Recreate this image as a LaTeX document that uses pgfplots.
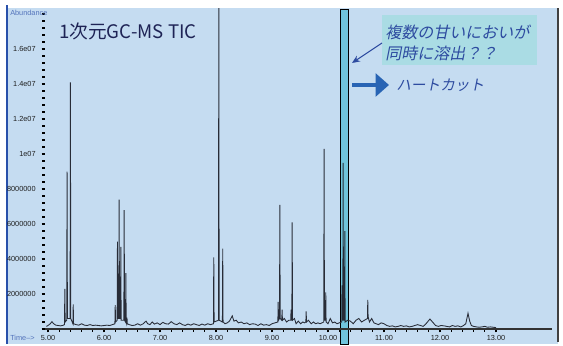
\documentclass[border=0pt]{standalone}
\usepackage{pgfplots}
\pgfplotsset{compat=1.18}
\usepackage{fontspec}
\setmainfont{Liberation Sans}
\newfontfamily\jp{Noto Sans CJK JP}
\newfontfamily\jpit{Noto Sans CJK JP}[FakeSlant=0.2]
\usetikzlibrary{arrows.meta}
\definecolor{bgblue}{RGB}{197,220,241}
\definecolor{leftblue}{RGB}{40,80,170}
\definecolor{cutcol}{RGB}{112,196,220}
\definecolor{boxcol}{RGB}{170,220,228}
\definecolor{txtblue}{RGB}{45,75,160}
\definecolor{arrowblue}{RGB}{40,100,180}
\definecolor{titlecol}{RGB}{30,35,85}
\definecolor{tracecol}{RGB}{40,44,55}
\definecolor{labcol}{RGB}{30,30,30}
\begin{document}
\begin{tikzpicture}
\begin{scope}[x=0.75pt,y=0.75pt]
  \useasboundingbox (0,0) rectangle (563,344);
  \fill[white] (0,0) rectangle (563,344);
  \fill[bgblue] (8,0) rectangle (558,336);
  \draw[line width=1.5pt, leftblue] (7,0) -- (7,339);
  \draw[line width=0.8pt, black!75] (558,2) -- (558,336);
  \filldraw[fill=cutcol, draw=black, line width=0.6pt] (340,0) rectangle (348,335);
\end{scope}
\begin{axis}[
  at={(33.75pt,11.25pt)}, anchor=south west,
  scale only axis, width=380.25pt, height=240pt,
  xmin=4.946, xmax=14.0, ymin=0, ymax=18.29,
  axis x line*=bottom, axis y line*=left,
  y axis line style={draw=none},
  x axis line style={draw=black!80, line width=0.8pt, -},
  tick align=outside,
  major tick length=2.5pt, minor tick length=2pt,
  tick style={black, line width=0.9pt},
  xtick={5,6,7,8,9,10,11,12,13},
  xticklabels={5.00,6.00,7.00,8.00,9.00,10.00,11.00,12.00,13.00},
  minor x tick num=4,
  ytick={0,2,4,6,8,10,12,14,16,18},
  yticklabels={,2000000,4000000,6000000,8000000,1e07,1.2e07,1.4e07,1.6e07,},
  minor y tick num=4,
  tick label style={font=\fontsize{5.5}{6}\selectfont, text=labcol},
  xticklabel style={yshift=1pt},
  yticklabel style={xshift=-1pt},
  /pgf/number format/assume math mode=true,
]
\addplot[color=tracecol, line width=0.65pt, mark=none] table {
4.97 0.15
5.00 0.20
5.04 0.30
5.07 0.42
5.10 0.30
5.14 0.22
5.18 0.20
5.22 0.18
5.26 0.20
5.294 0.25
5.30 2.3
5.306 0.4
5.334 0.5
5.34 9.0
5.346 0.6
5.394 0.6
5.40 14.1
5.406 0.6
5.444 0.3
5.45 1.4
5.456 0.3
5.50 0.25
5.55 0.22
5.60 0.3
5.65 0.22
5.70 0.2
5.75 0.25
5.80 0.2
5.85 0.22
5.90 0.2
5.95 0.18
6.00 0.2
6.05 0.22
6.10 0.2
6.15 0.25
6.194 0.3
6.20 1.37
6.206 0.4
6.234 0.5
6.24 5.0
6.246 0.6
6.264 0.6
6.27 7.4
6.276 0.6
6.294 0.6
6.30 4.7
6.306 0.5
6.354 0.5
6.36 6.8
6.366 0.5
6.384 0.4
6.39 3.2
6.396 0.4
6.404 0.3
6.41 0.65
6.416 0.3
6.45 0.25
6.50 0.2
6.55 0.22
6.60 0.3
6.65 0.22
6.70 0.3
6.75 0.45
6.78 0.3
6.82 0.25
6.86 0.4
6.90 0.28
6.95 0.35
7.00 0.25
7.05 0.38
7.10 0.3
7.15 0.28
7.20 0.42
7.25 0.3
7.30 0.25
7.35 0.35
7.40 0.25
7.45 0.2
7.50 0.28
7.55 0.22
7.60 0.3
7.65 0.25
7.70 0.2
7.75 0.28
7.80 0.22
7.85 0.3
7.90 0.25
7.954 0.3
7.96 4.1
7.966 0.4
8.044 0.5
8.05 20
8.056 0.5
8.114 0.4
8.12 4.6
8.126 0.4
8.16 0.3
8.20 0.35
8.24 0.45
8.29 0.75
8.32 0.45
8.36 0.5
8.40 0.35
8.45 0.4
8.50 0.3
8.55 0.35
8.60 0.25
8.65 0.3
8.70 0.28
8.75 0.2
8.80 0.3
8.85 0.22
8.90 0.25
8.95 0.2
9.00 0.3
9.05 0.35
9.104 0.4
9.11 1.55
9.116 0.5
9.134 0.6
9.14 7.1
9.146 0.6
9.174 0.5
9.18 1.1
9.186 0.5
9.22 0.6
9.26 0.4
9.30 0.5
9.334 0.5
9.34 1.1
9.346 0.5
9.354 0.5
9.36 6.1
9.366 0.5
9.40 0.6
9.43 0.3
9.47 0.45
9.51 0.3
9.55 0.4
9.58 0.35
9.604 0.4
9.61 1.0
9.616 0.4
9.65 0.5
9.70 0.3
9.74 0.4
9.78 0.3
9.82 0.35
9.86 0.3
9.924 0.4
9.93 10.3
9.936 0.5
9.954 0.5
9.96 2.1
9.966 0.4
10.00 0.3
10.04 0.6
10.08 0.35
10.12 0.4
10.16 0.3
10.20 0.35
10.244 0.4
10.25 2.5
10.256 0.5
10.264 0.5
10.27 9.5
10.276 0.5
10.294 0.5
10.30 5.6
10.306 0.4
10.35 0.5
10.40 0.45
10.45 0.3
10.50 0.5
10.55 0.6
10.60 0.4
10.65 0.5
10.704 0.6
10.71 1.66
10.716 0.7
10.74 0.4
10.78 0.6
10.82 0.35
10.86 0.3
10.90 0.25
10.95 0.35
11.00 0.3
11.05 0.2
11.10 0.15
11.15 0.18
11.20 0.12
11.25 0.15
11.30 0.2
11.35 0.15
11.40 0.18
11.45 0.12
11.50 0.15
11.55 0.2
11.60 0.25
11.65 0.2
11.70 0.15
11.75 0.3
11.82 0.57
11.88 0.35
11.92 0.2
11.97 0.15
12.02 0.2
12.07 0.18
12.12 0.15
12.17 0.12
12.22 0.2
12.27 0.15
12.32 0.18
12.37 0.12
12.42 0.2
12.46 0.3
12.50 0.9
12.53 0.45
12.56 0.2
12.60 0.15
12.65 0.12
12.70 0.1
12.75 0.12
12.80 0.15
12.85 0.1
12.90 0.12
12.95 0.1
13.00 0.08
};
\end{axis}
\begin{scope}[x=0.75pt,y=0.75pt]
  \node[anchor=west, inner sep=0pt, text=leftblue!80, font=\fontsize{5.5}{6}\selectfont] at (10,331) {Abundance};
  \node[anchor=west, inner sep=0pt, text=leftblue!80, font=\fontsize{5.5}{6}\selectfont] at (10,6) {Time-->};
  \node[anchor=west, inner sep=0pt, text=titlecol, font=\jp\fontsize{14}{14}\selectfont] at (59,313) {1次元GC-MS TIC};
  \fill[boxcol] (382,329) rectangle (537,279);
  \node[anchor=west, inner sep=0pt, text=txtblue, font=\jpit\fontsize{12}{12}\selectfont] at (385,312) {複数の甘いにおいが};
  \node[anchor=west, inner sep=0pt, text=txtblue, font=\jpit\fontsize{12}{12}\selectfont] at (385,291) {同時に溶出？？};
  \draw[-{Stealth[length=6pt,width=5pt]}, txtblue, line width=0.8pt] (382,301) -- (352,281);
  \draw[-{Triangle[length=10pt,width=17pt]}, arrowblue, line width=3.2pt] (352,259) -- (389,259);
  \node[anchor=west, inner sep=0pt, text=txtblue, font=\jpit\fontsize{11}{11}\selectfont] at (396,259) {ハートカット};
\end{scope}
\end{tikzpicture}
\end{document}
